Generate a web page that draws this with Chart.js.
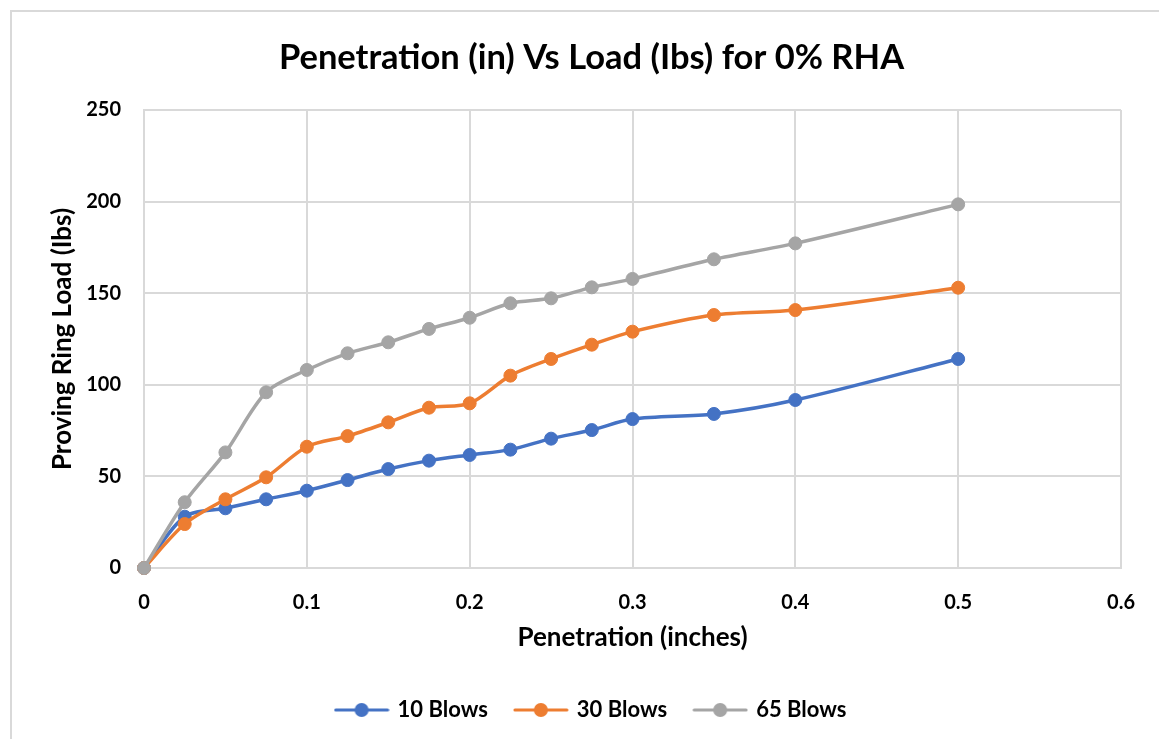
<!DOCTYPE html>
<html>
<head>
<meta charset="utf-8">
<title>Penetration Vs Load</title>
<script src="https://cdn.jsdelivr.net/npm/chart.js@4.4.1/dist/chart.umd.min.js"></script>
<style>
  body { margin: 0; background: #fff; }
  canvas { display: block; }
</style>
</head>
<body>
<canvas id="cbrChart" width="1159" height="739"></canvas>
<script>
// penetration readings (inches)
const penetration = [0, 0.025, 0.05, 0.075, 0.1, 0.125, 0.15, 0.175, 0.2, 0.225, 0.25, 0.275, 0.3, 0.35, 0.4, 0.5];
// proving ring load (lbs) for each compaction effort
const load10 = [0, 28, 32.6, 37.5, 42.2, 48, 54, 58.6, 61.7, 64.6, 70.6, 75.3, 81.3, 84.1, 91.7, 114.1];
const load30 = [0, 24, 37.5, 49.5, 66.2, 72, 79.5, 87.5, 89.9, 105, 114.1, 121.9, 129, 138.1, 140.8, 153];
const load65 = [0, 35.9, 63.1, 95.9, 108.1, 117.2, 123.2, 130.5, 136.6, 144.5, 147.2, 153.2, 157.8, 168.5, 177.2, 198.5];
const seriesNames = ['10 Blows', '30 Blows', '65 Blows'];
const seriesColors = ['#4472C4', '#ED7D31', '#A5A5A5'];
const xTicks = [0, 0.1, 0.2, 0.3, 0.4, 0.5, 0.6];
const yTicks = [0, 50, 100, 150, 200, 250];

const FONT = 'Lato';
const gridColor = '#d9d9d9';

function toPoints(loads) {
  return penetration.map((x, i) => ({ x: x, y: loads[i] }));
}

// little line + dot used as the legend symbol
function legendMarker(color) {
  const c = document.createElement('canvas');
  c.width = 56; c.height = 16;
  const g = c.getContext('2d');
  g.strokeStyle = color; g.lineWidth = 3; g.lineCap = 'round';
  g.beginPath(); g.moveTo(2, 8); g.lineTo(54, 8); g.stroke();
  g.fillStyle = color;
  g.beginPath(); g.arc(28, 8, 7, 0, Math.PI * 2); g.fill();
  return c;
}
const markers = seriesColors.map(legendMarker);

// thin frame round the whole chart
const chartBorder = {
  id: 'chartBorder',
  beforeDraw(chart) {
    const ctx = chart.ctx;
    ctx.save();
    ctx.strokeStyle = gridColor;
    ctx.lineWidth = 2;
    ctx.strokeRect(11, 11, chart.width, chart.height);
    ctx.restore();
  }
};

function makeSeries(i, loads) {
  return {
    label: seriesNames[i],
    data: toPoints(loads),
    borderColor: seriesColors[i],
    backgroundColor: seriesColors[i],
    borderWidth: 3.5,
    borderCapStyle: 'round',
    borderJoinStyle: 'round',
    tension: 0.3,
    pointRadius: 6.5,
    pointBorderWidth: 1,
    pointBackgroundColor: seriesColors[i],
    pointBorderColor: seriesColors[i],
    clip: false,
    order: 2 - i   // later series drawn on top
  };
}

const ctx = document.getElementById('cbrChart').getContext('2d');
const cbrChart = new Chart(ctx, {
  type: 'line',
  data: {
    datasets: [
      makeSeries(0, load10),
      makeSeries(1, load30),
      makeSeries(2, load65)
    ]
  },
  options: {
    responsive: false,
    animation: false,
    layout: { padding: { left: 62, right: 38, top: 0, bottom: 8 } },
    scales: {
      x: {
        type: 'linear',
        min: 0,
        max: 0.6,
        afterBuildTicks: axis => { axis.ticks = xTicks.map(v => ({ value: v })); },
        afterFit: axis => { axis.height = 103; },
        ticks: {
          padding: 23,
          color: '#000',
          font: { family: FONT, size: 20, weight: 'bold' },
          callback: v => String(v)
        },
        grid: { color: gridColor, lineWidth: 2, drawTicks: false },
        border: { color: gridColor, width: 2 },
        title: {
          display: true,
          text: 'Penetration (inches)',
          color: '#000',
          font: { family: FONT, size: 26, weight: 'bold' },
          padding: { top: 0, bottom: 17.5 }
        }
      },
      y: {
        min: 0,
        max: 250,
        afterBuildTicks: axis => { axis.ticks = yTicks.map(v => ({ value: v })); },
        afterFit: axis => { axis.width = 82; },
        ticks: {
          padding: 23,
          color: '#000',
          font: { family: FONT, size: 20, weight: 'bold' }
        },
        grid: { color: gridColor, lineWidth: 2, drawTicks: false },
        border: { color: gridColor, width: 2 },
        title: {
          display: true,
          text: 'Proving Ring Load (Ibs)',
          color: '#000',
          font: { family: FONT, size: 26, weight: 'bold' },
          padding: { top: -14.5, bottom: 0 }
        }
      }
    },
    plugins: {
      title: {
        display: true,
        text: 'Penetration (in) Vs Load (Ibs) for 0% RHA',
        color: '#000',
        font: { family: FONT, size: 34.5, weight: 'bold' },
        padding: { top: 37.3, bottom: 31.3 }
      },
      legend: {
        position: 'bottom',
        labels: {
          usePointStyle: true,
          pointStyleWidth: 50,
          padding: 28,
          color: '#000',
          font: { family: FONT, size: 22, weight: 'bold' },
          generateLabels: chart => chart.data.datasets.map((ds, i) => ({
            text: ds.label,
            pointStyle: markers[i],
            fillStyle: ds.borderColor,
            strokeStyle: ds.borderColor,
            lineWidth: 0,
            fontColor: '#000',
            datasetIndex: i,
            hidden: !chart.isDatasetVisible(i)
          }))
        }
      },
      tooltip: { enabled: false }
    }
  },
  plugins: [chartBorder]
});
</script>
</body>
</html>
